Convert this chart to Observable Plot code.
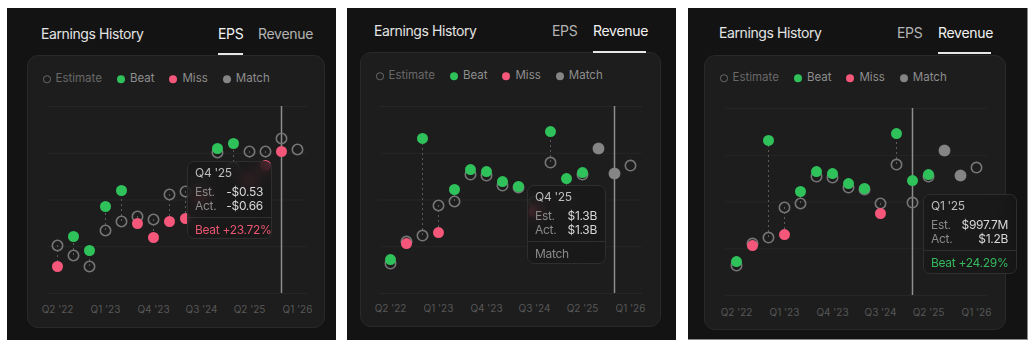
<!DOCTYPE html>
<html><head><meta charset="utf-8">
<script src="https://cdn.jsdelivr.net/npm/d3@7"></script>
<script src="https://cdn.jsdelivr.net/npm/@observablehq/plot@0.6"></script>
<style>
html,body{margin:0;padding:0;}
body{background:#fff;width:1035px;height:348px;position:relative;overflow:hidden;font-family:Inter,"Noto Sans",sans-serif;}
.abs{position:absolute;white-space:nowrap;}
.panel{position:absolute;background:#131313;box-sizing:border-box;}
.card{position:absolute;background:#1d1d1d;border:1px solid #292929;border-radius:11px;box-sizing:border-box;}
.title{font-size:14px;color:#e4e4e4;transform:translateY(-50%);line-height:1;letter-spacing:-0.4px;}
.tab{font-size:14px;transform:translateY(-50%);line-height:1;letter-spacing:-0.3px;}
.underline{position:absolute;height:2px;background:#e6e6e6;}
.legend{position:absolute;display:flex;align-items:center;gap:15px;font-size:11.5px;transform:translateY(-50%);line-height:1;white-space:nowrap;}
.legend .item{display:flex;align-items:center;gap:5px;color:#8e8e8e;}
.legend .ring{width:5.5px;height:5.5px;border:1.5px solid #6a6a6a;border-radius:50%;}
.legend .dot{width:8px;height:8px;border-radius:50%;}
.plot{position:absolute;}
.tip{position:absolute;background:rgba(24,24,24,0.72);backdrop-filter:blur(7px);-webkit-backdrop-filter:blur(7px);border:1px solid #2e2e2e;border-radius:7px;box-sizing:border-box;font-size:12px;letter-spacing:-0.3px;}
.tip .row{position:absolute;left:7px;right:8px;display:flex;justify-content:space-between;transform:translateY(-50%);line-height:1;white-space:nowrap;}
.tip .div{position:absolute;left:0;right:0;height:1px;background:#303030;}
</style>
</head><body>
<script>
// ---------- DATA ----------
const quarters = ["Q2 '22","Q3 '22","Q4 '22","Q1 '23","Q2 '23","Q3 '23","Q4 '23","Q1 '24","Q2 '24","Q3 '24","Q4 '24","Q1 '25","Q2 '25","Q3 '25","Q4 '25","Q1 '26"];
const tickLabels = ["Q2 '22","Q1 '23","Q4 '23","Q3 '24","Q2 '25","Q1 '26"];

// EPS in dollars
const epsEstimate = [-1.60,-1.70,-1.81,-1.45,-1.36,-1.31,-1.34,-1.09,-1.06,-1.00,-0.67,-0.82,-0.66,-0.66,-0.53,-0.64];
const epsActual   = [-1.81,-1.51,-1.65,-1.21,-1.05,-1.38,-1.52,-1.36,-1.33,-1.12,-0.63,-0.58,-0.95,-0.80,-0.66,null];
const epsResult   = ["miss","beat","beat","beat","beat","miss","miss","miss","miss","miss","beat","beat","miss","miss","miss",null];

// Revenue in $M
const revEstimate = [304,546,612,943,987,1284,1273,1163,1141,987,1416,997.7,1284,1570,1295,1383];
const revActual   = [348,524,1681,645,1119,1339,1317,1207,1152,877,1757,1240,1306,1570,1295,null];
const revResult   = ["beat","miss","beat","miss","beat","beat","beat","beat","beat","miss","beat","beat","beat","match","match",null];

const legendLabels = ["Estimate","Beat","Miss","Match"];
const resultKeys = ["beat","miss","match"];
const resultColors = ["#2fc25b","#f5577a","#858585"];

// tooltip texts per panel
const tipQuarter = ["Q4 '25","Q4 '25","Q1 '25"];
const tipEst = ["-$0.53","$1.3B","$997.7M"];
const tipAct = ["-$0.66","$1.3B","$1.2B"];
const tipFoot = ["Beat +23.72%","Match","Beat +24.29%"];
const tipFootColor = ["#ea5571","#8a8a8a","#36b85d"];

// ---------- LAYOUT ----------
const panels = [
  {series:"eps", box:[7,8,336,340], card:[27,55,325,328], title:[41,34], eps:[218,34], rev:[258,34], ul:[218,243,53],
   legend:[43,79], svg:{left:27,top:95,w:298,h:225,mt:11,mb:27,ml:29,mr:28,tp:12}, domain:[-2.08,-0.21],
   tip:{left:187,top:161,w:85,h:78}},
  {series:"rev", box:[347,8,676,340], card:[360,52,661,327], title:[374,31], eps:[552,31], rev:[593,31], ul:[593,646,51],
   legend:[376,76], svg:{left:360,top:93,w:301,h:225,mt:13,mb:25,ml:28,mr:29,tp:11}, domain:[-26,2033],
   tip:{left:527,top:185,w:79,h:79}},
  {series:"rev", box:[688,8,1028,340], card:[704,55,1006,330], title:[719,33], eps:[897,33], rev:[938,33], ul:[938,991,52],
   legend:[720,78], svg:{left:704,top:95,w:302,h:225,mt:13,mb:25,ml:30,mr:29,tp:13}, domain:[-26,2033],
   tip:{left:923,top:194,w:94,h:80}}
];

function el(tag, cls, style, text){
  const e = document.createElement(tag);
  if (cls) e.className = cls;
  Object.assign(e.style, style||{});
  if (text!=null) e.textContent = text;
  document.body.appendChild(e);
  return e;
}

panels.forEach((p, pi) => {
  const [x0,y0,x1,y1] = p.box;
  const pan = el("div","panel",{left:x0+"px",top:y0+"px",width:(x1-x0)+"px",height:(y1-y0)+"px"});
  if (pi===2){ pan.style.borderRight="1px solid #8a8a8a"; pan.style.borderBottom="1px solid #8a8a8a"; }
  const [c0,c1,c2,c3] = p.card;
  el("div","card",{left:c0+"px",top:c1+"px",width:(c2-c0)+"px",height:(c3-c1)+"px"});
  el("div","abs title",{left:p.title[0]+"px",top:p.title[1]+"px"},"Earnings History");
  const epsActive = p.series==="eps";
  el("div","abs tab",{left:p.eps[0]+"px",top:p.eps[1]+"px",color:epsActive?"#f2f2f2":"#b4b4b4"},"EPS");
  el("div","abs tab",{left:p.rev[0]+"px",top:p.rev[1]+"px",color:epsActive?"#b4b4b4":"#f2f2f2"},"Revenue");
  el("div","underline",{left:p.ul[0]+"px",width:(p.ul[1]-p.ul[0])+"px",top:p.ul[2]+"px"});

  // legend
  const lg = el("div","legend",{left:p.legend[0]+"px",top:p.legend[1]+"px"});
  legendLabels.forEach((lab,i)=>{
    const it = document.createElement("div"); it.className="item";
    const mk = document.createElement("div");
    if (i===0){ mk.className="ring"; it.style.color="#686868"; }
    else { mk.className="dot"; mk.style.background=resultColors[i-1]; }
    const t = document.createElement("span"); t.textContent=lab;
    it.appendChild(mk); it.appendChild(t); lg.appendChild(it);
  });

  // chart
  const est = p.series==="eps" ? epsEstimate : revEstimate;
  const act = p.series==="eps" ? epsActual : revActual;
  const res = p.series==="eps" ? epsResult : revResult;
  const data = quarters.map((q,i)=>({q, est:est[i], act:act[i], res:res[i]}));
  const withAct = data.filter(d=>d.act!=null);
  const [d0,d1] = p.domain;
  const grid = d3.range(5).map(i=>d0 + i*(d1-d0)/4);
  const s = p.svg;
  const chart = Plot.plot({
    width:s.w, height:s.h, marginTop:s.mt, marginBottom:s.mb, marginLeft:s.ml, marginRight:s.mr,
    style:{background:"transparent", overflow:"visible", fontFamily:"Inter, sans-serif"},
    x:{type:"point", domain:quarters, padding:0},
    y:{domain:p.domain, axis:null},
    color:{domain:resultKeys, range:resultColors},
    marks:[
      Plot.ruleY(grid,{stroke:"#262626", strokeWidth:1, insetLeft:-9, insetRight:-10}),
      Plot.axisX(tickLabels,{tickSize:0, tickPadding:s.tp, fill:"#575757", fontSize:10, label:null}),
      Plot.ruleX(withAct,{x:"q", y1:"est", y2:"act", stroke:"#5c5c5c", strokeWidth:1, strokeDasharray:"2,3"}),
      Plot.ruleX([tipQuarter[pi]],{x:d=>d, stroke:"#8e8e8e", strokeWidth:1.5}),
      Plot.dot(data,{x:"q", y:"est", r:5.2, stroke:"#767676", strokeWidth:1.6, fill:"none"}),
      Plot.dot(withAct,{x:"q", y:"act", r:5.5, fill:"res", stroke:"none"})
    ]
  });
  chart.classList.add("plot");
  Object.assign(chart.style,{left:s.left+"px", top:s.top+"px", position:"absolute"});
  document.body.appendChild(chart);

  // tooltip
  const t = p.tip;
  const tip = el("div","tip",{left:t.left+"px",top:t.top+"px",width:t.w+"px",height:t.h+"px"});
  const addRow = (cy, a, b, ca, cb) => {
    const r = document.createElement("div"); r.className="row"; r.style.top=cy+"px";
    const sa = document.createElement("span"); sa.textContent=a; sa.style.color=ca;
    r.appendChild(sa);
    if (b!=null){ const sb=document.createElement("span"); sb.textContent=b; sb.style.color=cb; r.appendChild(sb); }
    tip.appendChild(r);
  };
  addRow(11, tipQuarter[pi], null, "#bdbdbd");
  addRow(29.5, "Est.", tipEst[pi], "#8a8a8a", "#d8d8d8");
  addRow(44, "Act.", tipAct[pi], "#8a8a8a", "#d8d8d8");
  const dv = document.createElement("div"); dv.className="div"; dv.style.top="55px"; tip.appendChild(dv);
  addRow(68, tipFoot[pi], null, tipFootColor[pi]);
});
</script>
</body></html>
